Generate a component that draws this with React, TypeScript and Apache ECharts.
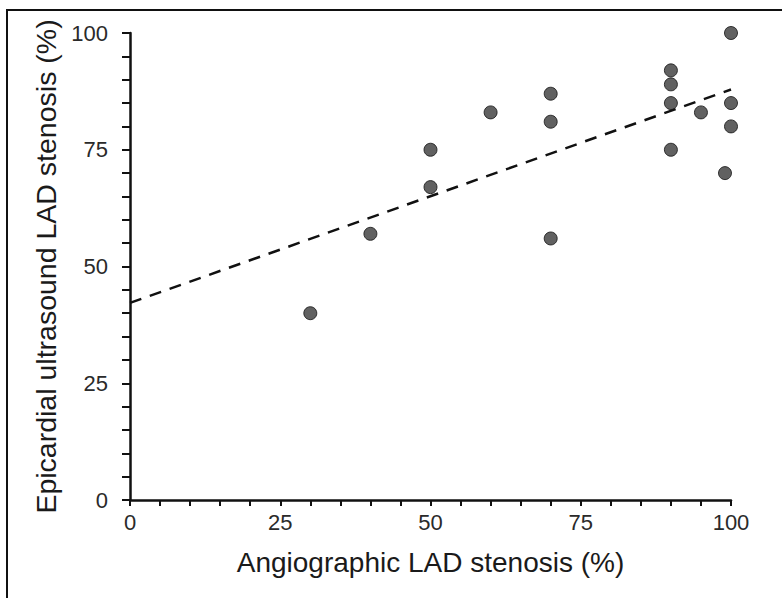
import React, { useEffect, useRef } from "react";
import * as echarts from "echarts";

const angiographic = [30, 40, 50, 50, 60, 70, 70, 70, 90, 90, 90, 90, 95, 99, 100, 100, 100];
const ultrasound = [40, 57, 75, 67, 83, 87, 81, 56, 92, 89, 85, 75, 83, 70, 100, 85, 80];
const trendX = [0, 100];
const trendY = [42.2, 87.9];
const xTicks = [0, 25, 50, 75, 100];
const yTicks = [0, 25, 50, 75, 100];

const FONT = "'Liberation Sans', Arial, Helvetica, sans-serif";

export default function App() {
  const ref = useRef<HTMLDivElement>(null);
  useEffect(() => {
    if (!ref.current) return;
    const chart = echarts.init(ref.current, undefined, { renderer: "svg" });
    const points = angiographic.map((x, i) => [x, ultrasound[i]]);
    const trend = trendX.map((x, i) => [x, trendY[i]]);
    chart.setOption({
      animation: false,
      backgroundColor: "#ffffff",
      textStyle: { fontFamily: FONT },
      grid: { left: 130, top: 33, right: 51, bottom: 98, containLabel: false },
      graphic: [
        {
          type: "rect",
          shape: { x: 7, y: 10, width: 800, height: 620 },
          style: { fill: "none", stroke: "#111", lineWidth: 2 },
          silent: true,
        },
      ],
      xAxis: {
        type: "value",
        min: xTicks[0],
        max: xTicks[xTicks.length - 1],
        interval: 25,
        name: "Angiographic LAD stenosis (%)",
        nameLocation: "middle",
        nameGap: 48,
        nameTextStyle: { fontSize: 28, color: "#1a1a1a", fontFamily: FONT },
        axisLine: { show: true, onZero: false, lineStyle: { color: "#111", width: 2.5 } },
        axisTick: { show: true, inside: false, length: 6, lineStyle: { color: "#111", width: 2 } },
        minorTick: { show: true, splitNumber: 5, length: 6, lineStyle: { color: "#111", width: 2 } },
        axisLabel: {
          fontSize: 22,
          color: "#2a2a2a",
          margin: 11,
          fontFamily: FONT,
          formatter: (v: number) => (xTicks.includes(v) ? String(v) : ""),
        },
        splitLine: { show: false },
      },
      yAxis: {
        type: "value",
        min: yTicks[0],
        max: yTicks[yTicks.length - 1],
        interval: 25,
        name: "Epicardial ultrasound LAD stenosis (%)",
        nameLocation: "middle",
        nameGap: 68,
        nameRotate: 90,
        nameTextStyle: { fontSize: 28.5, color: "#1a1a1a", fontFamily: FONT },
        axisLine: { show: true, onZero: false, lineStyle: { color: "#111", width: 2.5 } },
        axisTick: { show: true, inside: false, length: 8, lineStyle: { color: "#111", width: 2 } },
        minorTick: { show: true, splitNumber: 5, length: 8, lineStyle: { color: "#111", width: 2 } },
        axisLabel: {
          fontSize: 22,
          color: "#2a2a2a",
          margin: 22,
          fontFamily: FONT,
          formatter: (v: number) => (yTicks.includes(v) ? String(v) : ""),
        },
        splitLine: { show: false },
      },
      series: [
        {
          type: "line",
          data: trend,
          showSymbol: false,
          symbol: "none",
          lineStyle: { color: "#111", width: 2.5, type: [12, 9] },
          z: 2,
        },
        {
          type: "scatter",
          data: points,
          symbol: "circle",
          symbolSize: 13,
          itemStyle: { color: "#3a3a3a", borderColor: "#111", borderWidth: 1 },
          z: 3,
        },
      ],
    });
    return () => chart.dispose();
  }, []);
  return (
    <div
      ref={ref}
      style={{ width: 782, height: 598, position: "fixed", left: 0, top: 0, background: "#fff" }}
    />
  );
}
